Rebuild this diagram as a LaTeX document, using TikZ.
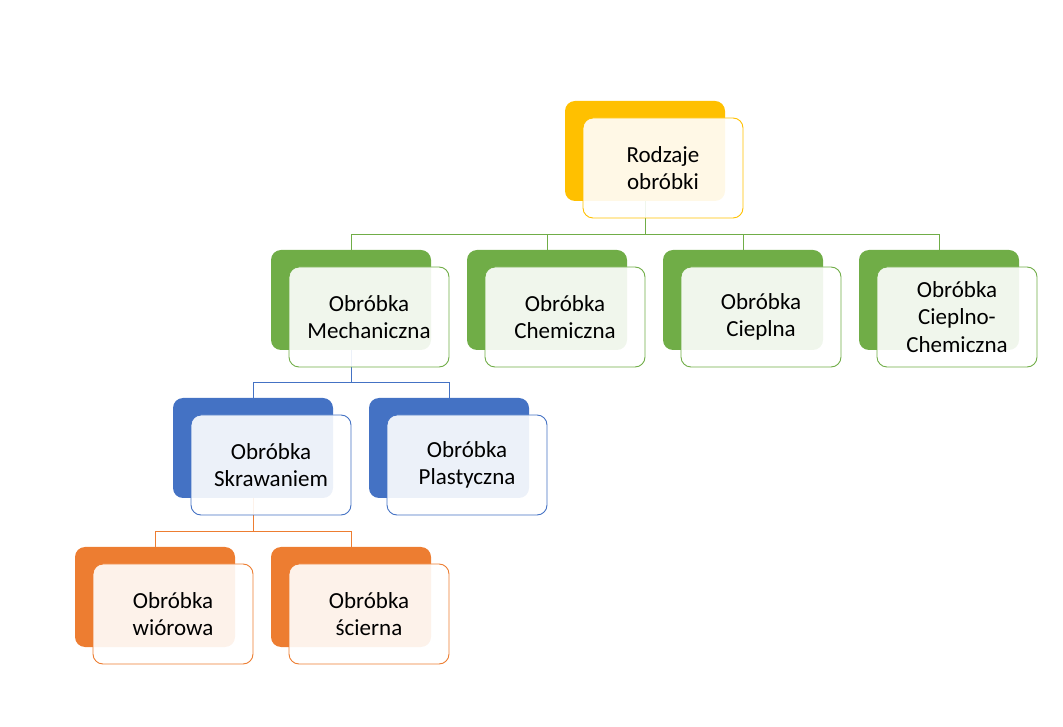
\documentclass[tikz,border=0pt]{standalone}
\usepackage{fontspec}
\setmainfont{Carlito}
\definecolor{cyel}{HTML}{FFC000}
\definecolor{cgrn}{HTML}{70AD47}
\definecolor{cblu}{HTML}{4472C4}
\definecolor{corg}{HTML}{ED7D31}
\tikzset{
  backbox/.style={draw=none, fill=#1, rounded corners=10pt, minimum width=160pt, minimum height=100pt, inner sep=0pt},
  frontbox/.style={draw=#1, line width=0.9pt, fill=white, fill opacity=0.9, rounded corners=10pt, minimum width=160pt, minimum height=100pt, inner sep=0pt},
  lbl/.style={align=center, font=\fontsize{23}{27.5}\selectfont, text=black, inner sep=0pt},
  conn/.style={draw=#1, line width=0.9pt}
}
\newcommand\mkunit[5]{%
  \node[backbox=#4] (#1b) at (#2,#3) {};
}
\newcommand\mkfront[5]{%
  \node[frontbox=#4] (#1f) at (#2+18,#3-17) {};
  \node[lbl] (#1t) at (#1f.center) {#5};
}
\begin{document}
\begin{tikzpicture}[x=1pt,y=1pt]
\useasboundingbox (0,0) rectangle (1063,726);
% back boxes
\mkunit{r}{645}{575}{cyel}{}
\mkunit{ma}{351}{426}{cgrn}{}
\mkunit{ch}{547}{426}{cgrn}{}
\mkunit{ci}{743}{426}{cgrn}{}
\mkunit{cc}{939}{426}{cgrn}{}
\mkunit{sk}{253}{278}{cblu}{}
\mkunit{pl}{449}{278}{cblu}{}
\mkunit{wi}{155}{129}{corg}{}
\mkunit{sc}{351}{129}{corg}{}
% bus coordinates
\coordinate (bus1) at (0,492);
\coordinate (bus2) at (0,344);
\coordinate (bus3) at (0,195);
% connectors
\foreach \c in {ma,ch,ci,cc}{
  \draw[conn=cgrn] (rb.south) -- (rb.south |- bus1) -| (\c b.north);
}
\foreach \c in {sk,pl}{
  \draw[conn=cblu] (mab.south) -- (mab.south |- bus2) -| (\c b.north);
}
\foreach \c in {wi,sc}{
  \draw[conn=corg] (skb.south) -- (skb.south |- bus3) -| (\c b.north);
}
% front boxes and labels
\mkfront{r}{645}{575}{cyel}{Rodzaje\\obróbki}
\mkfront{ma}{351}{426}{cgrn}{Obróbka\\Mechaniczna}
\mkfront{ch}{547}{426}{cgrn}{Obróbka\\Chemiczna}
\mkfront{ci}{743}{426}{cgrn}{Obróbka\\Cieplna}
\mkfront{cc}{939}{426}{cgrn}{Obróbka\\Cieplno-\\Chemiczna}
\mkfront{sk}{253}{278}{cblu}{Obróbka\\Skrawaniem}
\mkfront{pl}{449}{278}{cblu}{Obróbka\\Plastyczna}
\mkfront{wi}{155}{129}{corg}{Obróbka\\wiórowa}
\mkfront{sc}{351}{129}{corg}{Obróbka\\ścierna}
\end{tikzpicture}
\end{document}
